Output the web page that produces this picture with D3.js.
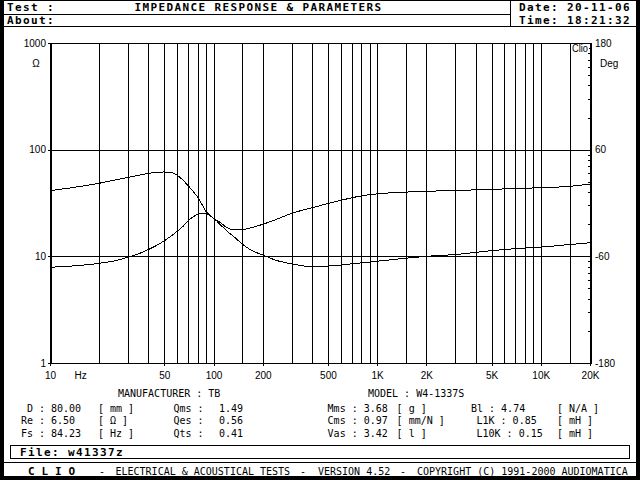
<!DOCTYPE html>
<html>
<head>
<meta charset="utf-8">
<script src="https://cdn.jsdelivr.net/npm/d3@7"></script>
<style>
  body { margin: 0; background: #fff; }
  svg { display: block; }
</style>
</head>
<body>
<div id="chart"></div>
<script>
// impedance modulus (Hz, ohm)
var impFreq = [10, 15, 20, 25, 30, 35, 40, 45, 50, 55, 60, 65, 70, 75, 80, 85, 90, 95, 102,
               110, 120, 135, 150, 170, 200, 240, 300, 400, 500, 700, 1000, 1500, 2000, 3000,
               5000, 7000, 10000, 15000, 20000];
var impOhm  = [7.9, 8.2, 8.6, 9.1, 9.8, 10.6, 11.6, 12.7, 14.0, 15.5, 17.2, 19.1, 21.6, 23.4, 24.9, 25.4, 25.1, 24.0, 22.2,
               19.8, 17.4, 15.0, 13.0, 11.4, 10.3, 9.2, 8.5, 8.0, 8.1, 8.5, 9.0, 9.6, 10.0, 10.4,
               11.3, 11.8, 12.2, 12.9, 13.4];

// impedance phase (Hz, degrees)
var phFreq = [10, 15, 20, 25, 30, 35, 40, 45, 50, 55, 60, 65, 70, 75, 80, 85, 90, 95, 102,
              110, 120, 135, 150, 170, 200, 240, 300, 400, 500, 600, 800, 1000, 1400, 2000,
              3000, 5000, 7000, 10000, 15000, 20000];
var phDeg  = [13.8, 18.4, 22.2, 25.9, 28.8, 31.3, 33.3, 34.5, 34.9, 34.3, 31.2, 25.7, 19.4, 13.1, 6.4, -1.8, -9.6, -13.8, -18.4,
              -21.9, -27.4, -30.1, -30.0, -27.8, -23.9, -18.7, -11.6, -5.4, -0.6, 3.0, 8.0, 10.3, 12.0, 13.2,
              14.1, 15.3, 16.3, 17.2, 18.7, 21.3];

// axes
var gridFreqs = [20, 30, 40, 50, 60, 70, 80, 90, 100, 150, 200, 300, 400, 500, 600, 700, 800, 900,
                 1000, 1500, 2000, 3000, 4000, 5000, 6000, 7000, 8000, 9000, 10000, 15000];
var freqTicks = [10, 50, 100, 200, 500, 1000, 2000, 5000, 10000, 20000];
var freqTickLabels = ["10", "50", "100", "200", "500", "1K", "2K", "5K", "10K", "20K"];
var ohmTicks = [1, 10, 100, 1000];
var degTicks = [-180, -60, 60, 180];

// header / parameters text
var testTitle = "IMPEDANCE RESPONSE & PARAMETERS";
var testDate = "20-11-06", testTime = "18:21:32";
var manufacturer = "TB", model = "W4-1337S", fileName = "w41337z";
var col1 = [["D", "80.00", "[ mm ]"], ["Re", "6.50", "[ \u03A9 ]"], ["Fs", "84.23", "[ Hz ]"]];
var col2 = [["Qms", "1.49"], ["Qes", "0.56"], ["Qts", "0.41"]];
var col3 = [["Mms", "3.68", "[ g ]"], ["Cms", "0.97", "[ mm/N ]"], ["Vas", "3.42", "[ l ]"]];
var col4 = [["Bl", "4.74", "[ N/A ]"], ["L1K", "0.85", "[ mH ]"], ["L10K", "0.15", "[ mH ]"]];

var mono = "'DejaVu Sans Mono', monospace";
var sans = "'Liberation Sans', Arial, sans-serif";
var cw = 6.02; // char width of the 10px mono font

var svg = d3.select("#chart").append("svg")
    .attr("width", 640)
    .attr("height", 480)
    .attr("shape-rendering", "crispEdges");

// window frame
svg.append("rect").attr("width", 640).attr("height", 480).attr("fill", "#000");
svg.append("rect").attr("x", 4).attr("y", 1).attr("width", 632).attr("height", 475).attr("fill", "#fff");

function hline(y, x1, x2) {
    svg.append("line").attr("x1", x1).attr("x2", x2).attr("y1", y).attr("y2", y)
        .attr("stroke", "#000").attr("stroke-width", 1);
}
function vline(x, y1, y2) {
    svg.append("line").attr("x1", x).attr("x2", x).attr("y1", y1).attr("y2", y2)
        .attr("stroke", "#000").attr("stroke-width", 1);
}
function boldText(s, x, y, anchor) {
    return svg.append("text").attr("x", x).attr("y", y)
        .attr("text-anchor", anchor || "start")
        .attr("font-family", mono).attr("font-weight", "bold")
        .attr("font-size", 11).attr("letter-spacing", 1.38)
        .text(s);
}
function smallText(s, x, y, anchor) {
    return svg.append("text").attr("x", x).attr("y", y)
        .attr("text-anchor", anchor || "start")
        .attr("font-family", mono).attr("font-size", 10)
        .text(s);
}

// header
hline(14.5, 4, 510);
hline(26.5, 4, 636);
vline(510.5, 1, 26.5);
boldText("Test :", 7, 11);
boldText("About:", 7, 24);
boldText(testTitle, 134.5, 11);
boldText("Date: " + testDate, 519, 11);
boldText("Time: " + testTime, 519, 24);

// plot area
var margin = { top: 43, right: 50, bottom: 117, left: 50 },
    width = 640 - margin.left - margin.right,
    height = 480 - margin.top - margin.bottom;

var xScale = d3.scaleLog().domain([10, 20000]).range([0, width]);
var yOhm = d3.scaleLog().domain([1, 1000]).range([height, 0]);
var yDeg = d3.scaleLinear().domain([-180, 180]).range([height, 0]);

var plot = svg.append("g")
    .attr("transform", "translate(" + margin.left + "," + margin.top + ")");

function px(v) { return Math.round(v) + 0.5; }

// vertical grid
plot.selectAll(".vgrid").data(gridFreqs).enter().append("line")
    .attr("x1", function (d) { return px(xScale(d)); })
    .attr("x2", function (d) { return px(xScale(d)); })
    .attr("y1", 0).attr("y2", height)
    .attr("stroke", "#000");

// horizontal grid and top/bottom frame
plot.selectAll(".hgrid").data(ohmTicks).enter().append("line")
    .attr("x1", 0).attr("x2", width)
    .attr("y1", function (d) { return px(yOhm(d)); })
    .attr("y2", function (d) { return px(yOhm(d)); })
    .attr("stroke", "#000");

// thick side axes
[0, width].forEach(function (x) {
    plot.append("line").attr("x1", x + 0.5).attr("x2", x + 0.5).attr("y1", 0).attr("y2", height + 1)
        .attr("stroke", "#000").attr("stroke-width", 2);
});

var minorOhm = yOhm.ticks().filter(function (d) { return ohmTicks.indexOf(d) < 0; });

function styleAxis(g) {
    g.select(".domain").remove();
    g.attr("font-family", sans).attr("font-size", 10);
    g.selectAll("text").attr("fill", "#000");
    g.selectAll("line").attr("stroke", "#000");
}

// left axis, ohm
plot.append("g")
    .call(d3.axisLeft(yOhm).tickValues(ohmTicks).tickFormat(d3.format("d")).tickSize(2).tickPadding(2))
    .call(styleAxis);
plot.append("g")
    .call(d3.axisLeft(yOhm).tickValues(minorOhm).tickFormat("").tickSize(-2))
    .call(styleAxis);

// right axis, degrees
plot.append("g")
    .attr("transform", "translate(" + width + ",0)")
    .call(d3.axisRight(yDeg).tickValues(degTicks).tickFormat(function (d) { return String(d); })
        .tickSize(0).tickPadding(5))
    .call(styleAxis);
plot.append("g")
    .attr("transform", "translate(" + width + ",0)")
    .call(d3.axisRight(yOhm).tickValues(minorOhm).tickFormat("").tickSize(-2))
    .call(styleAxis);

// bottom axis, frequency
plot.append("g")
    .attr("transform", "translate(0," + height + ")")
    .call(d3.axisBottom(xScale).tickValues(freqTicks)
        .tickFormat(function (d, i) { return freqTickLabels[i]; })
        .tickSize(3).tickPadding(6))
    .call(styleAxis);

// unit labels
plot.append("text").attr("x", xScale(15.4)).attr("y", height + 16)
    .attr("text-anchor", "middle").attr("font-family", sans).attr("font-size", 10).text("Hz");
plot.append("text").attr("x", -14).attr("y", 24)
    .attr("text-anchor", "middle").attr("font-family", sans).attr("font-size", 10).text("\u03A9");
plot.append("text").attr("x", width + 10).attr("y", 24)
    .attr("font-family", sans).attr("font-size", 10).text("Deg");

// Clio tag
plot.append("rect").attr("x", px(xScale(15000)) + 0.5).attr("y", 1).attr("width", 18).attr("height", 9)
    .attr("fill", "#fff");
plot.append("text").attr("x", width - 10).attr("y", 9)
    .attr("text-anchor", "middle").attr("font-family", sans).attr("font-size", 10.5)
    .attr("textLength", 16).attr("lengthAdjust", "spacingAndGlyphs").text("Clio");

// curves
var impData = impFreq.map(function (f, i) { return { f: f, v: impOhm[i] }; });
var phData = phFreq.map(function (f, i) { return { f: f, v: phDeg[i] }; });

var impLine = d3.line()
    .x(function (d) { return xScale(d.f); })
    .y(function (d) { return yOhm(d.v); })
    .curve(d3.curveMonotoneX);
var phLine = d3.line()
    .x(function (d) { return xScale(d.f); })
    .y(function (d) { return yDeg(d.v); })
    .curve(d3.curveMonotoneX);

plot.append("path").datum(impData).attr("d", impLine)
    .attr("fill", "none").attr("stroke", "#000").attr("stroke-width", 1);
plot.append("path").datum(phData).attr("d", phLine)
    .attr("fill", "none").attr("stroke", "#000").attr("stroke-width", 1);

// parameters block
smallText("MANUFACTURER : " + manufacturer, 118, 397);
smallText("MODEL : " + model, 368, 397);

var rowY = [411.5, 424, 436.5];
col1.forEach(function (r, i) {
    smallText(r[0] + " : " + r[1], 39 - (r[0].length + 1) * cw, rowY[i]);
    smallText(r[2], 98, rowY[i]);
});
col2.forEach(function (r, i) {
    smallText(r[0] + " :", 173.4, rowY[i]);
    smallText(r[1], 219, rowY[i]);
});
col3.forEach(function (r, i) {
    smallText(r[0] + " : " + r[1], 327.6, rowY[i]);
    smallText(r[2], 396.6, rowY[i]);
});
var col4X = [471, 476.5, 476.5];
col4.forEach(function (r, i) {
    smallText(r[0] + " : " + r[1], col4X[i], rowY[i]);
    smallText(r[2], 557, rowY[i]);
});

// file box
svg.append("rect").attr("x", 10.5).attr("y", 445.5).attr("width", 619).attr("height", 13)
    .attr("fill", "none").attr("stroke", "#000");
boldText("File: " + fileName, 20, 456);

// footer
hline(462.5, 4, 636);
boldText("C L I O", 28, 475).attr("letter-spacing", null)
    .attr("textLength", 47).attr("lengthAdjust", "spacing");
smallText("-", 99, 475);
smallText("ELECTRICAL & ACOUSTICAL TESTS", 115.5, 475);
smallText("-", 300, 475);
smallText("VERSION 4.52", 318, 475);
smallText("-", 400, 475);
smallText("COPYRIGHT (C) 1991-2000 AUDIOMATICA", 417, 475);
</script>
</body>
</html>
